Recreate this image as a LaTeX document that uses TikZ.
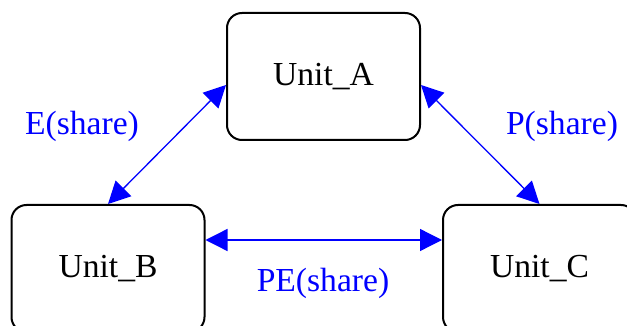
\documentclass[tikz,border=0pt]{standalone}
\usepackage{fontspec}
\setmainfont{Liberation Serif}
\usetikzlibrary{arrows.meta}

\tikzset{
  unit/.style={draw, line width=1pt, rounded corners=7.5pt, minimum width=96.5pt,
    minimum height=63.5pt, inner sep=0pt, font=\fontsize{16.8}{20}\selectfont},
  link/.style={draw=blue, line width=0.65pt, {Triangle[length=11pt,width=11pt]}-{Triangle[length=11pt,width=11pt]}},
  share/.style={text=blue, font=\fontsize{16.8}{20}\selectfont}
}

\begin{document}
\begin{tikzpicture}[x=0.5pt,y=-0.5pt]
  \useasboundingbox (0,0) rectangle (627,326);

  \node[unit] (unitA) at (323.5,76.5) {Unit\_A};
  \node[unit] (unitB) at (108,268.5) {Unit\_B};
  \node[unit] (unitC) at (539.5,268.5) {Unit\_C};

  \draw[link] ([yshift=-4.25pt]unitA.west) -- (unitB.north);
  \draw[link] ([yshift=-4.25pt]unitA.east) -- (unitC.north);
  \draw[link] ([yshift=14.25pt]unitB.east) -- ([yshift=14.25pt]unitC.west);

  \node[share] (shareE) at (82,126) {E(share)};
  \node[share] (shareP) at (562,126) {P(share)};
  \node[share] (sharePE) at (323,283) {PE(share)};
\end{tikzpicture}
\end{document}
